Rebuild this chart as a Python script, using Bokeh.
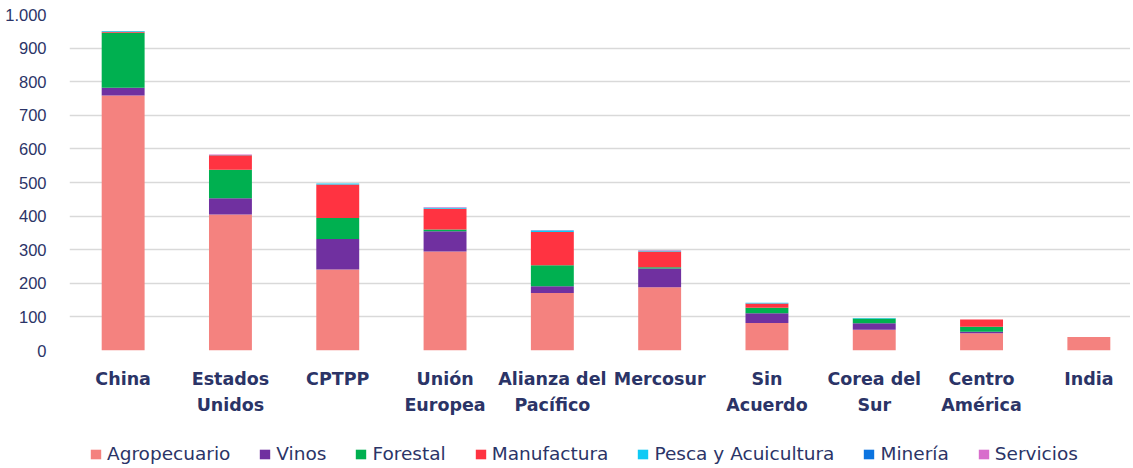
from bokeh.plotting import figure
from bokeh.layouts import column
from bokeh.models import ColumnDataSource, Range1d, FixedTicker, Legend, LegendItem, LinearAxis
from bokeh.embed import file_html
from bokeh.resources import INLINE

categories = ["China", "Estados Unidos", "CPTPP", "Unión Europea", "Alianza del Pacífico",
              "Mercosur", "Sin Acuerdo", "Corea del Sur", "Centro América", "India"]
label_line1 = ["China", "Estados", "CPTPP", "Unión", "Alianza del",
               "Mercosur", "Sin", "Corea del", "Centro", "India"]
label_line2 = ["", "Unidos", "", "Europea", "Pacífico",
               "", "Acuerdo", "Sur", "América", ""]

agropecuario = [759, 405, 241, 295, 171, 188, 82, 62, 51, 40]
vinos = [23, 48, 91, 60, 20, 56, 29, 19, 5, 0]
forestal = [164, 85, 62, 5, 63, 4, 16, 14, 15, 0]
manufactura = [3, 43, 100, 62, 99, 47, 13, 0, 21, 0]
pesca = [2, 1, 3, 2, 3, 2, 2, 2, 0, 0]
mineria = [0, 0, 0, 1, 1, 0, 0, 0, 0, 0]
servicios = [0, 1, 0, 1, 0, 1, 0, 0, 0, 0]

series_names = ["Agropecuario", "Vinos", "Forestal", "Manufactura",
                "Pesca y Acuicultura", "Minería", "Servicios"]
series_keys = ["agro", "vinos", "forestal", "manuf", "pesca", "mineria", "servicios"]
colors = ["#F4827F", "#7030A0", "#00B050", "#FF3341", "#0FCAF5", "#0B74E0", "#D86ECC"]

y_ticks = list(range(0, 1001, 100))
y_tick_labels = {t: f"{t:,}".replace(",", ".") for t in y_ticks}

source = ColumnDataSource(dict(
    x=list(range(len(categories))),
    cat=categories,
    agro=agropecuario, vinos=vinos, forestal=forestal, manuf=manufactura,
    pesca=pesca, mineria=mineria, servicios=servicios,
))

TEXT = "#2B3467"
W = 1130
LEFT, TOP, BOTTOM = 69, 14, 90
FH = 336
FW = W - LEFT
LEG_H = 28

p = figure(
    width=W, height=TOP + FH + BOTTOM,
    x_range=Range1d(-0.5, -0.5 + FW / 107.3), y_range=Range1d(0, 1000),
    output_backend="svg", toolbar_location=None,
    min_border_left=LEFT, min_border_right=0, min_border_top=TOP, min_border_bottom=BOTTOM,
    outline_line_color=None,
)

renderers = p.vbar_stack(series_keys, x="x", width=0.4, color=colors, source=source,
                         line_color=None)

p.xgrid.visible = False
p.ygrid.grid_line_color = "#D9D9D9"
p.ygrid.grid_line_width = 1.5

p.yaxis.ticker = FixedTicker(ticks=y_ticks)
p.yaxis.major_label_overrides = y_tick_labels
p.yaxis.axis_line_color = None
p.yaxis.major_tick_line_color = None
p.yaxis.minor_tick_line_color = None
p.yaxis.major_label_standoff = 17
p.yaxis.major_label_text_font = "Liberation Sans"
p.yaxis.major_label_text_font_size = "16.5px"
p.yaxis.major_label_text_color = TEXT


def style_xaxis(ax, labels, standoff):
    ax.ticker = FixedTicker(ticks=list(range(len(categories))))
    ax.major_label_overrides = {i: lab for i, lab in enumerate(labels)}
    ax.axis_line_color = None
    ax.major_tick_line_color = None
    ax.minor_tick_line_color = None
    ax.major_tick_out = 0
    ax.major_tick_in = 0
    ax.major_label_standoff = standoff
    ax.axis_label_standoff = 0
    ax.major_label_text_font = "DejaVu Sans"
    ax.major_label_text_font_style = "bold"
    ax.major_label_text_font_size = "17.5px"
    ax.major_label_text_color = TEXT


style_xaxis(p.xaxis[0], label_line1, 18)
ax2 = LinearAxis()
style_xaxis(ax2, label_line2, 3)
p.add_layout(ax2, "below")

# Legend strip: same stacked bars drawn outside its visible range, legend only shown
pl = figure(
    width=W, height=LEG_H,
    x_range=Range1d(100, 101), y_range=Range1d(5000, 5001),
    x_axis_type=None, y_axis_type=None,
    output_backend="svg", toolbar_location=None,
    min_border_left=LEFT, min_border_right=0, min_border_top=0, min_border_bottom=0,
    outline_line_color=None,
)
pl.grid.visible = False
leg_renderers = pl.vbar_stack(series_keys, x="x", width=0.4, color=colors, source=source,
                              line_color=None)

items = [LegendItem(label=name, renderers=[r]) for name, r in zip(series_names, leg_renderers)]
legend = Legend(items=items, orientation="horizontal", location=(20, 4))
legend.label_text_font = "DejaVu Sans"
legend.label_text_font_size = "18.5px"
legend.label_text_color = TEXT
legend.label_height = 18
legend.glyph_width = 13
legend.glyph_height = 12
legend.label_standoff = 5
legend.spacing = 28
legend.padding = 0
legend.margin = 0
legend.border_line_color = None
legend.background_fill_alpha = 0
pl.add_layout(legend, "center")

layout = column(p, pl, spacing=0)
open("out.html", "w").write(file_html(layout, INLINE))
